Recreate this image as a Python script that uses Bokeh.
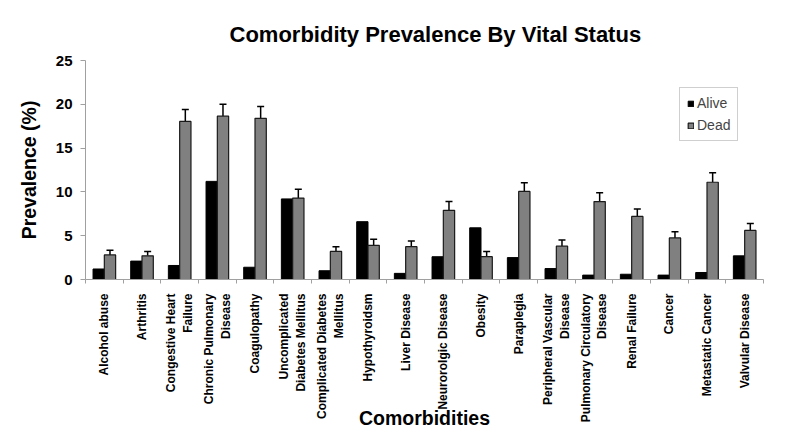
import numpy as np
from bokeh.plotting import figure
from bokeh.models import (ColumnDataSource, FixedTicker, Range1d, Whisker, TeeHead,
                          Legend, LegendItem)
from bokeh.embed import file_html
from bokeh.resources import INLINE

categories = ["Alcohol abuse", "Arthritis", "Congestive Heart\nFailure",
              "Chronic Pulmonary\nDisease", "Coagulopathy",
              "Uncomplicated\nDiabetes Mellitus", "Complicated Diabetes\nMellitus",
              "Hypothyroidsm", "Liver Disease", "Neurorolgic Disease", "Obesity",
              "Paraplegia", "Peripheral Vascular\nDisease",
              "Pulmonary Circulatory\nDisease", "Renal Failure", "Cancer",
              "Metastatic Cancer", "Valvular Disease"]
alive = [1.2, 2.1, 1.6, 11.2, 1.4, 9.2, 1.0, 6.6, 0.7, 2.6, 5.9, 2.5, 1.25, 0.5, 0.6, 0.5, 0.8, 2.7]
dead = [2.8, 2.7, 18.05, 18.65, 18.4, 9.3, 3.2, 3.9, 3.75, 7.9, 2.6, 10.05, 3.8, 8.9, 7.2, 4.75, 11.1, 5.6]
dead_err = [0.55, 0.5, 1.35, 1.35, 1.35, 1.0, 0.55, 0.7, 0.65, 1.0, 0.6, 1.0, 0.7, 1.0, 0.85, 0.7, 1.1, 0.8]
y_ticks = [0, 5, 10, 15, 20, 25]

FONT = "Liberation Sans"
n = len(categories)
pos = np.arange(n)

src = ColumnDataSource(dict(
    xa=pos - 0.15, xd=pos + 0.15,
    alive=alive, dead=dead,
    upper=np.array(dead) + np.array(dead_err),
))

p = figure(width=784, height=432, x_range=Range1d(-0.5, n - 0.5), y_range=Range1d(0, 25),
           output_backend="svg", toolbar_location=None,
           min_border_left=85, min_border_right=21, min_border_top=60, min_border_bottom=153,
           title="Comorbidity Prevalence By Vital Status")
p.outline_line_color = None
p.grid.visible = False

p.title.text_font = FONT
p.title.text_font_size = "22px"
p.title.text_font_style = "bold"
p.title.text_color = "black"
p.title.align = "left"
p.title.offset = 144
p.title.standoff = 28

ra = p.vbar(x="xa", top="alive", width=0.3, source=src, fill_color="black", line_color="black")
rd = p.vbar(x="xd", top="dead", width=0.3, source=src, fill_color="#808080", line_color="#1a1a1a",
            line_width=1.2)

wh = Whisker(base="xd", lower="dead", upper="upper", source=src,
             upper_head=TeeHead(size=7, line_width=1.5, line_color="black"),
             lower_head=None, line_width=1.5, line_color="black")
p.add_layout(wh)

# axes
p.yaxis.ticker = FixedTicker(ticks=y_ticks)
p.xaxis.ticker = FixedTicker(ticks=list(pos), minor_ticks=list(np.arange(n + 1) - 0.5))
p.xaxis.major_label_overrides = {int(i): c for i, c in zip(pos, categories)}
p.xaxis.major_label_orientation = np.pi / 2
p.xaxis.major_tick_out = 0
p.xaxis.major_tick_in = 0
p.xaxis.minor_tick_out = 4
p.xaxis.minor_tick_in = 0
p.xaxis.major_label_standoff = 10
p.xaxis.major_label_text_font_size = "12px"
p.yaxis.major_label_text_font_size = "15px"
p.yaxis.major_tick_out = 5
p.yaxis.major_tick_in = 0
p.yaxis.minor_tick_out = 0
p.yaxis.minor_tick_in = 0
p.yaxis.major_label_standoff = 8

p.xaxis.axis_label = "Comorbidities"
p.xaxis.axis_label_standoff = -18
p.yaxis.axis_label = "Prevalence (%)"
p.yaxis.axis_label_standoff = 13

for ax in (p.xaxis[0], p.yaxis[0]):
    ax.axis_line_color = "#a0a0a0"
    ax.major_tick_line_color = "#a0a0a0"
    ax.minor_tick_line_color = "#a0a0a0"
    ax.major_label_text_font = FONT
    ax.major_label_text_font_style = "bold"
    ax.major_label_text_color = "black"
    ax.axis_label_text_font = FONT
    ax.axis_label_text_font_style = "bold"
    ax.axis_label_text_font_size = "19.5px"
    ax.axis_label_text_color = "black"

legend = Legend(items=[LegendItem(label="Alive", renderers=[ra]),
                       LegendItem(label="Dead", renderers=[rd])],
                location=(594, 138))
legend.label_text_font = FONT
legend.label_text_font_size = "14px"
legend.glyph_width = 7
legend.glyph_height = 7
legend.label_standoff = 3
legend.spacing = 6
legend.padding = 7
legend.label_height = 14
legend.border_line_color = "#a0a0a0"
legend.border_line_width = 1
p.add_layout(legend)

open("out.html", "w").write(file_html(p, INLINE))
